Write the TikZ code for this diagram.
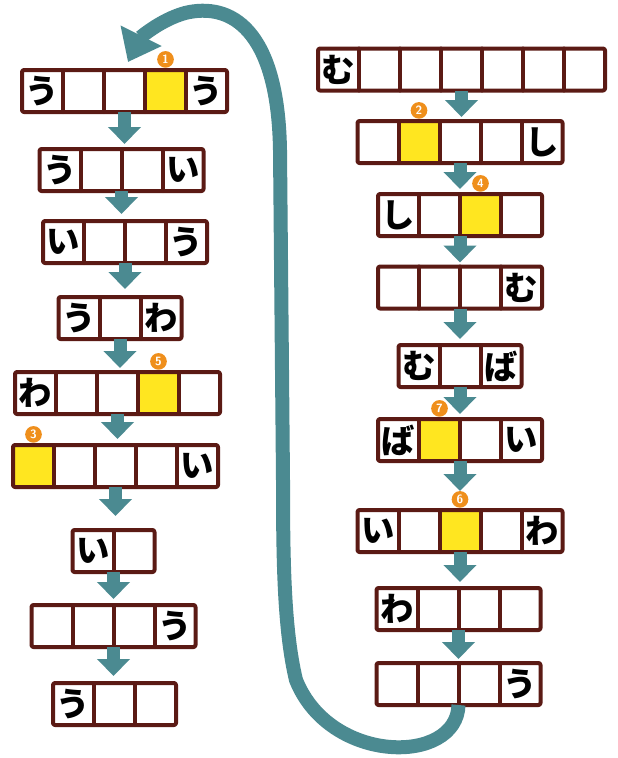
\documentclass[tikz,border=0pt]{standalone}
\usepackage{fontspec}
\usepackage{xcolor}
\usetikzlibrary{arrows.meta}
\newfontfamily\jpfont{Noto Sans CJK JP}
\definecolor{slotline}{HTML}{5B1A14}
\definecolor{flowteal}{HTML}{4B8A91}
\definecolor{hityellow}{HTML}{FFE620}
\definecolor{markorange}{HTML}{EF8F1C}

% one row of letter slots: name, centre, cells, yellow cell, number, letters
\newcommand{\kanarow}[6]{%
  \node[rowbox, minimum width=#3*30.75pt] (#1) at (#2) {};
  \ifnum#4>0
    \node[hit, label={[marker]above:#5}] (#1y) at ([xshift={(#4-0.5)*30.75pt}]#1.west) {};
  \fi
  \foreach [count=\i] \c in {#6}
    \node[kana] at ([xshift={(\i-0.5)*30.75pt}]#1.west) {\c};
  \foreach \k in {2,...,#3}
    \draw[frame] ([xshift={(\k-1)*30.75pt}]#1.north west) -- ([xshift={(\k-1)*30.75pt}]#1.south west);
  \draw[frame, rounded corners=1.5pt] (#1.north west) rectangle (#1.south east);
}

\begin{document}
\begin{tikzpicture}[x=0.75pt, y=-0.75pt,
  rowbox/.style={inner sep=0pt, outer sep=0pt, minimum height=31.5pt},
  hit/.style={fill=hityellow, inner sep=0pt, outer sep=0pt, minimum width=30.75pt, minimum height=31.5pt},
  marker/.style={circle, fill=markorange, text=white, inner sep=0pt, minimum size=12.5pt,
    font=\sffamily\bfseries\small, label distance=1.5pt},
  kana/.style={font=\jpfont\bfseries\fontsize{25pt}{25pt}\selectfont, inner sep=0pt},
  frame/.style={draw=slotline, line width=3pt, line cap=round, line join=round},
  flow/.style={draw=flowteal, line width=9.75pt, -{Triangle[width=24pt,length=12.75pt]}},
  loopback/.style={draw=flowteal, line width=10.5pt, -{Triangle[width=33pt,length=22pt]}}]
  \useasboundingbox (0,0) rectangle (618,758);

  % left column
  \kanarow{L1}{124.5,91}{5}{4}{1}{う,,,,う}
  \kanarow{L2}{121.5,170}{4}{0}{}{う,,,い}
  \kanarow{L3}{125,242}{4}{0}{}{い,,,う}
  \kanarow{L4}{120,318}{3}{0}{}{う,,わ}
  \kanarow{L5}{117.5,393}{5}{4}{5}{わ,,,,}
  \kanarow{L6}{115.5,466}{5}{1}{3}{,,,,い}
  \kanarow{L7}{113.5,551}{2}{0}{}{い,}
  \kanarow{L8}{113.5,626}{4}{0}{}{,,,う}
  \kanarow{L9}{114.5,704}{3}{0}{}{う,,}

  % right column
  \kanarow{R1}{461.5,69.5}{7}{0}{}{む,,,,,,}
  \kanarow{R2}{460,142}{5}{2}{2}{,,,,し}
  \kanarow{R3}{460,215}{4}{3}{4}{し,,,}
  \kanarow{R4}{460,287.5}{4}{0}{}{,,,む}
  \kanarow{R5}{460,366}{3}{0}{}{む,,ば}
  \kanarow{R6}{460,440}{4}{2}{7}{ば,,,い}
  \kanarow{R7}{460,531}{5}{3}{6}{い,,,,わ}
  \kanarow{R8}{458.5,609}{4}{0}{}{わ,,,}
  \kanarow{R9}{458.5,684}{4}{0}{}{,,,う}

  % steps (gap left above the next row)
  \foreach \a/\b/\g in {L1/L2/5,L2/L3/7,L3/L4/8,L4/L5/4,L5/L6/6,L6/L7/14,L7/L8/6,L8/L9/7,
                        R1/R2/4,R2/R3/5,R3/R4/4,R4/R5/6,R5/R6/5,R6/R7/19,R7/R8/6,R8/R9/4}
    \draw[flow, shorten >=\g*0.75pt] (\a.south) -- (\a.south |- \b.north);

  % back to the start
  \draw[loopback] (R9.south) .. controls (457,765) and (330,765) .. (296,680)
    .. controls (284,630) and (283,560) .. (283,480) -- (280,150)
    .. controls (278,28) and (230,2) .. (185,13)
    .. controls (160,20) and (140,38) .. ([shift={(3.5,-8)}]L1.north);
\end{tikzpicture}
\end{document}
